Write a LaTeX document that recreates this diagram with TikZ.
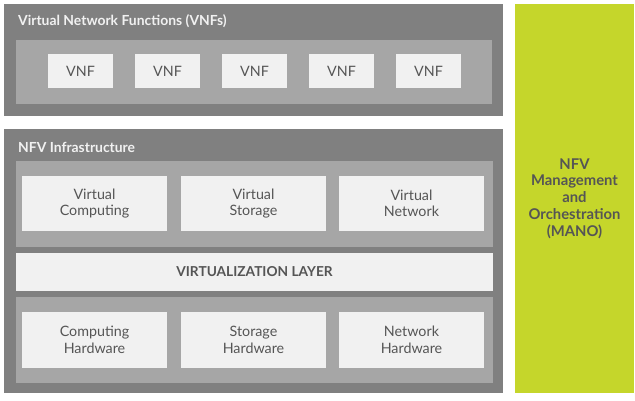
\documentclass[tikz,border=0pt]{standalone}
\usepackage{fontspec}
\setmainfont{Lato}
\definecolor{outergray}{HTML}{808080}
\definecolor{innergray}{HTML}{A6A6A6}
\definecolor{boxfill}{HTML}{F1F1F1}
\definecolor{textgray}{HTML}{555555}
\definecolor{manogreen}{HTML}{C5D62B}
\begin{document}
\begin{tikzpicture}[x=1pt,y=-1pt,
  outerbox/.style={fill=outergray, draw=none},
  innerbox/.style={fill=innergray, draw=none},
  whitebox/.style={fill=boxfill, draw=none, inner sep=0pt, align=center,
    text=textgray, font=\fontsize{14.3}{16.5}\selectfont},
  vnfbox/.style={whitebox, minimum width=65pt, minimum height=34pt},
  resbox/.style={whitebox, minimum width=145pt, minimum height=55pt},
  titletext/.style={anchor=west, inner sep=0pt, text=boxfill,
    font=\fontsize{13.9}{16}\selectfont\bfseries},
]
\useasboundingbox (0,0) rectangle (635,400);
\fill[white] (0,0) rectangle (635,400);
% VNF layer
\node[outerbox, minimum width=499pt, minimum height=112pt, inner sep=0pt] (vnfouter) at (253.5,60) {};
\node[titletext] (vnftitle) at (18,21) {Virtual Network Functions (VNFs)};
\node[innerbox, minimum width=475.5pt, minimum height=64pt, inner sep=0pt] (vnfinner) at (253.75,72) {};
\node[vnfbox] (vnf1) at (80.5,71) {VNF};
\node[vnfbox] (vnf2) at (167.5,71) {VNF};
\node[vnfbox] (vnf3) at (254.5,71) {VNF};
\node[vnfbox] (vnf4) at (341.5,71) {VNF};
\node[vnfbox] (vnf5) at (428.5,71) {VNF};
% NFVI
\node[outerbox, minimum width=499pt, minimum height=264pt, inner sep=0pt] (nfviouter) at (253.5,261) {};
\node[titletext] (nfvititle) at (18,147) {NFV Infrastructure};
\node[innerbox, minimum width=477pt, minimum height=86pt, inner sep=0pt] (virtinner) at (254.5,204) {};
\node[resbox] (vc) at (94.5,203.5) {Virtual\\Computing};
\node[resbox] (vs) at (253.5,203.5) {Virtual\\Storage};
\node[resbox] (vn) at (411.5,203.5) {Virtual\\Network};
\node[whitebox, minimum width=477pt, minimum height=38pt, font=\fontsize{13.7}{16}\selectfont\bfseries] (vlayer) at (254.5,272) {VIRTUALIZATION LAYER};
\node[innerbox, minimum width=477pt, minimum height=86pt, inner sep=0pt] (hwinner) at (254.5,340) {};
\node[resbox, minimum height=56pt] (ch) at (94.5,340) {Computing\\Hardware};
\node[resbox, minimum height=56pt] (sh) at (253.5,340) {Storage\\Hardware};
\node[resbox, minimum height=56pt] (nh) at (411.5,340) {Network\\Hardware};
% MANO
\node[fill=manogreen, minimum width=119pt, minimum height=389pt, inner sep=0pt, align=center,
  text=textgray, font=\fontsize{14.8}{16.8}\selectfont\bfseries] (mano) at (574.5,198.5)
  {NFV\\Management\\and\\Orchestration\\(MANO)};
\end{tikzpicture}
\end{document}
